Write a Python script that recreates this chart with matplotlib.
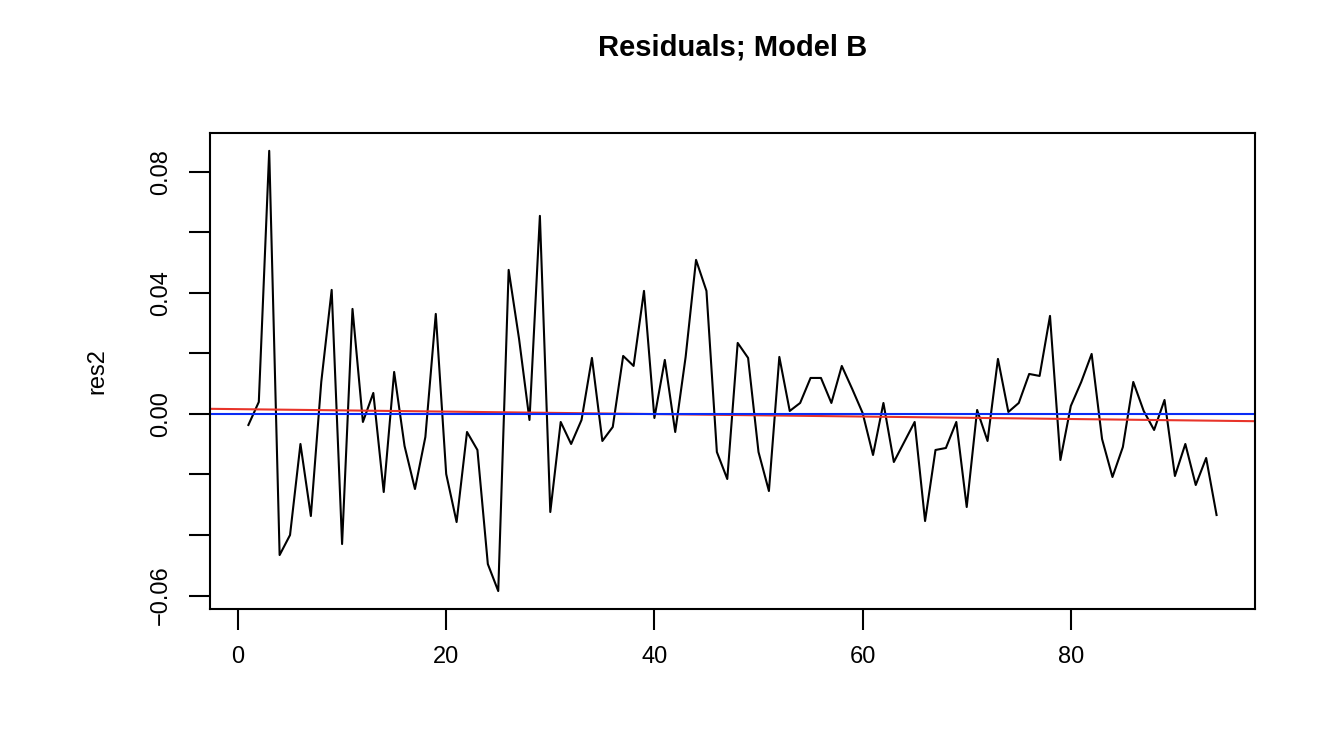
import numpy as np
import matplotlib.pyplot as plt

plt.rcParams['font.family'] = ['Liberation Sans', 'DejaVu Sans']

# pixel rows, converted to residual values
py = [426, 403, 152, 556, 536, 445, 517, 383, 291, 545,
      310, 423, 394, 493, 373, 447, 490, 438, 315, 475,
      523, 433, 451, 565, 592, 271, 340, 421, 217, 513,
      423, 445, 421, 359, 442, 428, 357, 367, 292, 419,
      361, 433, 358, 261, 292, 453, 480, 344, 359, 453,
      492, 358, 412, 404, 379, 379, 404, 367, 390, 414,
      456, 404, 463, 443, 423, 522, 451, 449, 423, 508,
      411, 442, 360, 413, 404, 375, 377, 317, 461, 407,
      383, 355, 440, 478, 448, 383, 412, 431, 401, 477,
      445, 486, 459, 516]
res2 = (415 - np.array(py)) / 3025.0
idx = np.arange(1, len(res2) + 1)

yticks = [-0.06, -0.04, -0.02, 0.00, 0.02, 0.04, 0.06, 0.08]
ylabels = ["\u22120.06", "", "", "0.00", "", "0.04", "", "0.08"]
xticks = [0, 20, 40, 60, 80]

fig = plt.figure(figsize=(13.44, 7.36), dpi=100)
ax = fig.add_axes([0.156, 0.173, 0.778, 0.646])

ax.plot(idx, res2, color='black', linewidth=1.5)
slope, icpt = np.polyfit(idx, res2, 1)
xl = np.array([-10, 110])
ax.plot(xl, icpt + slope * xl, color='#e8342a', linewidth=1.5)
ax.axhline(0, color='#0a2cf5', linewidth=1.5)

r = res2.max() - res2.min()
ax.set_xlim(1 - 0.04 * 93, 94 + 0.04 * 93)
ax.set_ylim(res2.min() - 0.04 * r, res2.max() + 0.04 * r)

for s in ax.spines.values():
    s.set_linewidth(1.5)
ax.set_xticks(xticks)
ax.set_xticklabels([str(t) for t in xticks], fontsize=17)
ax.set_yticks(yticks)
ax.set_yticklabels(ylabels, fontsize=17, rotation=90, va='center')
ax.tick_params(length=15, width=1.5, pad=12)

ax.set_ylabel("res2", fontsize=17, labelpad=30)
fig.text(0.545, 0.935, "Residuals; Model B", ha='center', va='center',
         fontsize=21, fontweight='bold')

plt.savefig("out.png", dpi=100)
